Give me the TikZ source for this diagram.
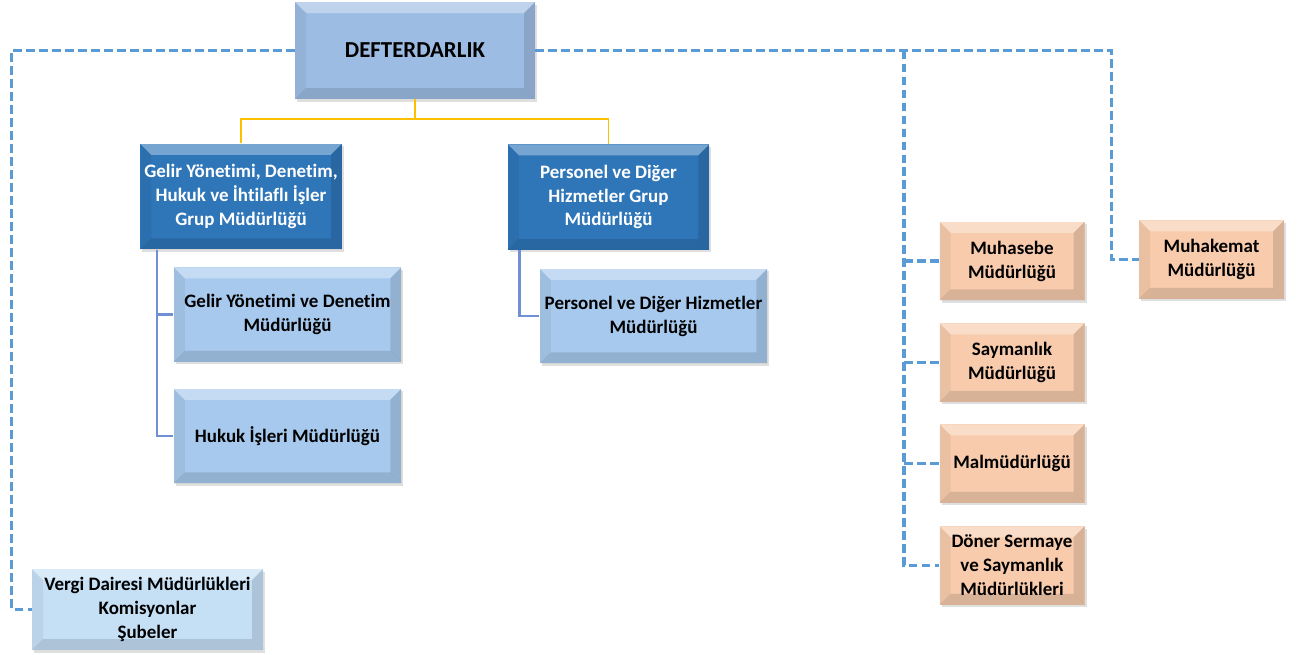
\documentclass[tikz,border=0pt]{standalone}
\usepackage{fontspec}
\setmainfont{Carlito}[Ligatures=NoCommon]
\usetikzlibrary{shadows}

\definecolor{kesikmavi}{HTML}{5B9BD5}
\definecolor{sari}{HTML}{FFC000}
\definecolor{dalmavi}{HTML}{7090D4}
\definecolor{ustmavi}{HTML}{9DBCE3}
\definecolor{grupmavi}{HTML}{2F76B9}
\definecolor{altmavi}{HTML}{A7C9ED}
\definecolor{vergimavi}{HTML}{C5DFF5}
\definecolor{seftali}{HTML}{F7CBAC}

\newcommand{\bevw}{0.22cm}

\tikzset{
	kabartma/.style={path picture={
		\path (path picture bounding box.north west) coordinate (bnw)
			(path picture bounding box.north east) coordinate (bne)
			(path picture bounding box.south west) coordinate (bsw)
			(path picture bounding box.south east) coordinate (bse);
		\path ([shift={(\bevw,-\bevw)}]bnw) coordinate (inw)
			([shift={(-\bevw,-\bevw)}]bne) coordinate (ine)
			([shift={(\bevw,\bevw)}]bsw) coordinate (isw)
			([shift={(-\bevw,\bevw)}]bse) coordinate (ise);
		\fill[white, opacity=0.35] (bnw) -- (bne) -- (ine) -- (inw) -- cycle;
		\fill[black, opacity=0.12] (bsw) -- (bse) -- (ise) -- (isw) -- cycle;
		\fill[black, opacity=0.05] (bnw) -- (inw) -- (isw) -- (bsw) -- cycle;
		\fill[black, opacity=0.12] (bne) -- (ine) -- (ise) -- (bse) -- cycle;
	}},
	kutu/.style={kabartma, inner sep=0pt, align=center,
		font=\bfseries\fontsize{10.8}{13.6}\selectfont,
		drop shadow={opacity=0.25, shadow xshift=0.04cm, shadow yshift=-0.05cm}},
	ustkutu/.style={kutu, fill=ustmavi, minimum width=4.80cm, minimum height=1.94cm,
		font=\bfseries\fontsize{13}{15.5}\selectfont},
	grupkutu/.style={kutu, fill=grupmavi, text=white, minimum width=4.03cm, minimum height=2.11cm},
	altkutu/.style={kutu, fill=altmavi, minimum width=4.55cm, minimum height=1.89cm},
	vergikutu/.style={kutu, fill=vergimavi, minimum width=4.62cm, minimum height=1.62cm},
	birimkutu/.style={kutu, fill=seftali, minimum width=2.90cm, minimum height=1.57cm},
	kesikhat/.style={draw=kesikmavi, line width=1.8pt, dash pattern=on 0.17cm off 0.09cm},
	sarihat/.style={draw=sari, line width=1.1pt},
	dalhat/.style={draw=dalmavi, line width=1.4pt}
}

\begin{document}
\begin{tikzpicture}
		\useasboundingbox (0, 0) rectangle (26.08, -13.10);

		\node (defter) at (8.30, -1.01) [ustkutu] {DEFTERDARLIK};

		\node (gelirgrup) at (4.82, -3.93) [grupkutu] {Gelir Yönetimi, Denetim,\\Hukuk ve İhtilaflı İşler\\Grup Müdürlüğü};
		\node (persgrup) at (12.17, -3.94) [grupkutu] {Personel ve Diğer\\Hizmetler Grup\\Müdürlüğü};

		\node (gelirdenetim) at (5.75, -6.29) [altkutu] {Gelir Yönetimi ve Denetim\\Müdürlüğü};
		\node (hukuk) at (5.75, -8.72) [altkutu] {Hukuk İşleri Müdürlüğü};
		\node (persmud) at (13.07, -6.32) [altkutu] {Personel ve Diğer Hizmetler\\Müdürlüğü};

		\node (vergi) at (2.95, -12.19) [vergikutu] {Vergi Dairesi Müdürlükleri\\Komisyonlar\\Şubeler};

		\node (muhasebe) at (20.24, -5.22) [birimkutu] {Muhasebe\\Müdürlüğü};
		\node (saymanlik) at (20.24, -7.25) [birimkutu] {Saymanlık\\Müdürlüğü};
		\node (malmud) at (20.24, -9.27) [birimkutu] {Malmüdürlüğü};
		\node (doner) at (20.24, -11.31) [birimkutu] {Döner Sermaye\\ve Saymanlık\\Müdürlükleri};
		\node (muhakemat) at (24.23, -5.19) [birimkutu] {Muhakemat\\Müdürlüğü};

		\draw[sarihat] (defter.south) -- ++(0, -0.4) -| (gelirgrup.north);
		\draw[sarihat] (defter.south) -- ++(0, -0.4) -| (persgrup.north);

		\draw[dalhat] ([xshift=0.34cm]gelirgrup.south west) |- (gelirdenetim.west);
		\draw[dalhat] ([xshift=0.34cm]gelirgrup.south west) |- (hukuk.west);
		\draw[dalhat] ([xshift=0.24cm]persgrup.south west) |- (persmud.west);

		\draw[kesikhat] (defter.west) -| ([xshift=-0.40cm]vergi.west) -- (vergi.west);
		\draw[kesikhat] (defter.east) -| ([xshift=-0.54cm]muhakemat.west) -- (muhakemat.west);

		\coordinate (sagkol) at (18.08, -1.01);
		\draw[kesikhat] (sagkol) |- (doner.west);
		\foreach \b in {muhasebe, saymanlik, malmud}
			\draw[kesikhat] (sagkol |- \b.west) -- (\b.west);
	\end{tikzpicture}
\end{document}
